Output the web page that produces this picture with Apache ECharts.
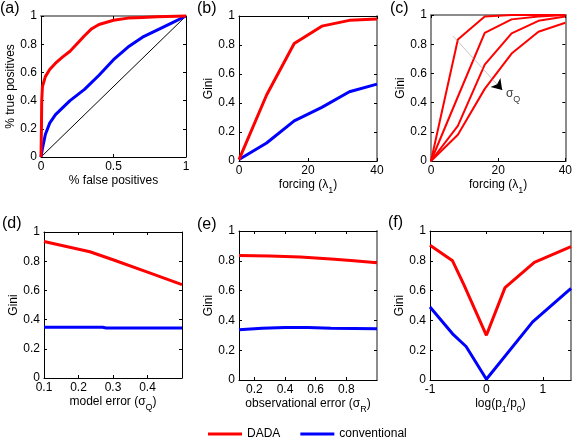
<!DOCTYPE html>
<html><head><meta charset="utf-8">
<script src="https://cdn.jsdelivr.net/npm/echarts@6/dist/echarts.min.js"></script>
<style>html,body{margin:0;padding:0;background:#fff}#c{width:575px;height:437px}</style>
</head><body><div id="c"></div>
<script>
// ---------------- data ----------------
const panelLabels = ['(a)','(b)','(c)','(d)','(e)','(f)'];
const yTicks = [0,0.2,0.4,0.6,0.8,1];
const xTicksA = [0,0.5,1];
const xTicksB = [0,20,40];
const xTicksC = [0,20,40];
const xTicksD = [0.1,0.2,0.3,0.4];
const xTicksE = [0.2,0.4,0.6,0.8];
const xTicksF = [-1,0,1];

// (a) ROC curves [false positive rate, true positive rate]
const rocDADA = [[0,0],[0.003,0.2],[0.005,0.4],[0.01,0.5],[0.03,0.57],[0.06,0.62],[0.1,0.665],[0.15,0.71],[0.2,0.75],[0.25,0.805],[0.3,0.86],[0.35,0.91],[0.4,0.94],[0.5,0.97],[0.6,0.985],[0.7,0.99],[0.8,0.995],[1,1]];
const rocConv = [[0,0],[0.01,0.06],[0.03,0.16],[0.06,0.24],[0.1,0.3],[0.15,0.35],[0.2,0.4],[0.3,0.48],[0.4,0.58],[0.5,0.69],[0.6,0.78],[0.7,0.85],[0.8,0.9],[0.9,0.95],[1,1]];
const rocChance = [[0,0],[1,1]];

// (b) Gini vs forcing
const forcing = [0,8,16,24,32,40];
const giniForcingDADA = [0.01,0.455,0.81,0.93,0.97,0.98];
const giniForcingConv = [0.01,0.124,0.277,0.37,0.478,0.53];

// (c) Gini vs forcing for increasing model error
const giniSigQ1 = [0,0.832,0.99,1,1,1];
const giniSigQ2 = [0,0.44,0.878,0.97,0.99,1];
const giniSigQ3 = [0,0.24,0.66,0.874,0.96,0.99];
const giniSigQ4 = [0,0.18,0.494,0.736,0.885,0.947];
const arrowSigmaQ = [[6.5,0.857],[21.2,0.487]];
const arrowLabelPos = [22.3,0.445];

// (d) Gini vs model error
const modelErrDADA = [[0.1,0.935],[0.233,0.865],[0.3,0.81],[0.4,0.725],[0.5,0.64]];
const modelErrConv = [[0.1,0.348],[0.27,0.348],[0.28,0.343],[0.5,0.343]];

// (e) Gini vs observational error
const obsErrDADA = [[0.1,0.835],[0.3,0.832],[0.5,0.825],[0.7,0.812],[0.85,0.8],[1.0,0.787]];
const obsErrConv = [[0.1,0.338],[0.25,0.348],[0.4,0.353],[0.55,0.353],[0.7,0.347],[1.0,0.344]];

// (f) Gini vs log(p1/p0)
const logRatioDADA = [[-1,0.905],[-0.6,0.8],[-0.4,0.64],[0,0.3],[0.33,0.62],[0.85,0.79],[1.5,0.895]];
const logRatioConv = [[-1,0.49],[-0.6,0.31],[-0.36,0.225],[0,0.005],[0.82,0.39],[1.5,0.615]];

// ---------------- layout / style ----------------
const FONT = '"Liberation Sans", Arial, Helvetica, sans-serif';
const RED = '#ff0000', BLUE = '#0000ff', GRAY = '#8c8c8c';
const grids = [
  {left:41, top:16, width:145, height:141},
  {left:239, top:16, width:138, height:145},
  {left:431, top:15, width:138, height:146},
  {left:44, top:232, width:138, height:146},
  {left:239, top:231, width:138, height:149},
  {left:430, top:231, width:141, height:149}
];
const edges = [{top:GRAY},{right:GRAY},{top:GRAY,left:GRAY,right:GRAY},{},{right:GRAY},{right:GRAY}];
const xCfg = [
  {min:0, max:1, ticks:xTicksA, name:'{n|% false positives}'},
  {min:0, max:40, ticks:xTicksB, name:'{n|forcing (λ}{s|1}{n|)}'},
  {min:0, max:40, ticks:xTicksC, name:'{n|forcing (λ}{s|1}{n|)}'},
  {min:0.1, max:0.5, ticks:xTicksD, name:'{n|model error (σ}{s|Q}{n|)}'},
  {min:0.1, max:1, ticks:xTicksE, name:'{n|observational error (σ}{s|R}{n|)}'},
  {min:-1, max:1.5, ticks:xTicksF, name:'{n|log(p}{s|1}{n|/p}{s|0}{n|)}'}
];
const yNames = ['% true positives','Gini','Gini','Gini','Gini','Gini'];
const RICH = {
  n:{fontSize:12, fontFamily:FONT, color:'#000', lineHeight:14, verticalAlign:'top'},
  s:{fontSize:9, fontFamily:FONT, color:'#000', verticalAlign:'top', padding:[7,0,0,0]}
};
function lineSt(c){ return {onZero:false, lineStyle:{color:c||'#000', width:c?2:1}}; }

const xAxes = [], yAxes = [];
grids.forEach((g,i)=>{
  const c = xCfg[i], e = edges[i];
  const xb = {type:'value', gridIndex:i, min:c.min, max:c.max, splitLine:{show:false}};
  xAxes.push(Object.assign({}, xb, {
    position:'bottom', name:c.name, nameLocation:'middle', nameGap:18,
    nameTextStyle:{color:'#000', fontSize:12, fontFamily:FONT, rich:RICH},
    axisLine:lineSt(e.bottom),
    axisTick:{inside:true, length:3, customValues:c.ticks, lineStyle:{color:'#000'}},
    axisLabel:{customValues:c.ticks, margin:4, color:'#000', fontSize:12, fontFamily:FONT}
  }));
  xAxes.push(Object.assign({}, xb, {
    position:'top', axisLine:lineSt(e.top),
    axisTick:{inside:true, length:3, customValues:c.ticks, lineStyle:{color:'#000'}},
    axisLabel:{show:false}
  }));
  const yb = {type:'value', gridIndex:i, min:0, max:1, splitLine:{show:false}};
  yAxes.push(Object.assign({}, yb, {
    position:'left', name:yNames[i], nameLocation:'middle', nameGap:22,
    nameTextStyle:{color:'#000', fontSize:12, fontFamily:FONT},
    axisLine:lineSt(e.left),
    axisTick:{inside:true, length:3, customValues:yTicks, lineStyle:{color:'#000'}},
    axisLabel:{customValues:yTicks, margin:4, color:'#000', fontSize:12, fontFamily:FONT}
  }));
  yAxes.push(Object.assign({}, yb, {
    position:'right', axisLine:lineSt(e.right),
    axisTick:{inside:true, length:3, customValues:yTicks, lineStyle:{color:'#000'}},
    axisLabel:{show:false}
  }));
});

function ln(name, data, i, color, width){
  return {type:'line', name:name, data:data, xAxisIndex:2*i, yAxisIndex:2*i,
    showSymbol:false, symbol:'none', smooth:false, silent:true, clip:false,
    lineStyle:{color:color, width:width}, itemStyle:{color:color}, z:3};
}
const zip = (xs, ys) => xs.map((x,k)=>[x, ys[k]]);

const series = [
  ln('', rocChance, 0, '#000', 1),
  ln('conventional', rocConv, 0, BLUE, 3),
  ln('DADA', rocDADA, 0, RED, 3),
  ln('conventional', zip(forcing, giniForcingConv), 1, BLUE, 3),
  ln('DADA', zip(forcing, giniForcingDADA), 1, RED, 3),
  ln('DADA', zip(forcing, giniSigQ1), 2, RED, 2),
  ln('DADA', zip(forcing, giniSigQ2), 2, RED, 2),
  ln('DADA', zip(forcing, giniSigQ3), 2, RED, 2),
  ln('DADA', zip(forcing, giniSigQ4), 2, RED, 2),
  ln('conventional', modelErrConv, 3, BLUE, 3),
  ln('DADA', modelErrDADA, 3, RED, 3),
  ln('conventional', obsErrConv, 4, BLUE, 3),
  ln('DADA', obsErrDADA, 4, RED, 3),
  ln('conventional', logRatioConv, 5, BLUE, 3),
  ln('DADA', logRatioDADA, 5, RED, 3)
];
// arrow annotation in (c)
const a0 = arrowSigmaQ[0], a1 = arrowSigmaQ[1];
const aMid = [a0[0]+0.95*(a1[0]-a0[0]), a0[1]+0.95*(a1[1]-a0[1])];
series.push({type:'lines', coordinateSystem:'cartesian2d', xAxisIndex:4, yAxisIndex:4, silent:true, z:5,
  data:[{coords:[a0, aMid]}], lineStyle:{color:GRAY, width:1}, symbol:['none','none']});
series.push({type:'lines', coordinateSystem:'cartesian2d', xAxisIndex:4, yAxisIndex:4, silent:true, z:6,
  data:[{coords:[aMid, a1]}], lineStyle:{color:'#000', width:1, opacity:1}, itemStyle:{color:'#000'},
  symbol:['none','arrow'], symbolSize:10});
series.push({type:'scatter', name:'sigmaQ', xAxisIndex:4, yAxisIndex:4, data:[arrowLabelPos], symbolSize:0, silent:true,
  label:{show:true, position:'right', distance:0, formatter:'{n|σ}{s|Q}',
    rich:{n:{fontSize:12, fontFamily:FONT, color:'#000', lineHeight:14, verticalAlign:'top'},
          s:{fontSize:9, fontFamily:FONT, color:'#000', verticalAlign:'top', padding:[7,0,0,0]}}}});

const labelPos = [[0,1],[197,1],[390,1],[2,216],[197,217],[388,215]];
const graphic = panelLabels.map((t,k)=>({type:'text', left:labelPos[k][0], top:labelPos[k][1],
  style:{text:t, font:'16px ' + FONT, fill:'#000'}}));

const chart = echarts.init(document.getElementById('c'));
chart.setOption({
  animation:false,
  backgroundColor:'#fff',
  grid:grids,
  xAxis:xAxes,
  yAxis:yAxes,
  series:series,
  graphic:graphic,
  legend:{data:['DADA','conventional'], left:203, top:423, icon:'rect', itemWidth:34, itemHeight:3, itemGap:20,
    textStyle:{color:'#000', fontSize:12, fontFamily:FONT}, selectedMode:false}
});
</script></body></html>
